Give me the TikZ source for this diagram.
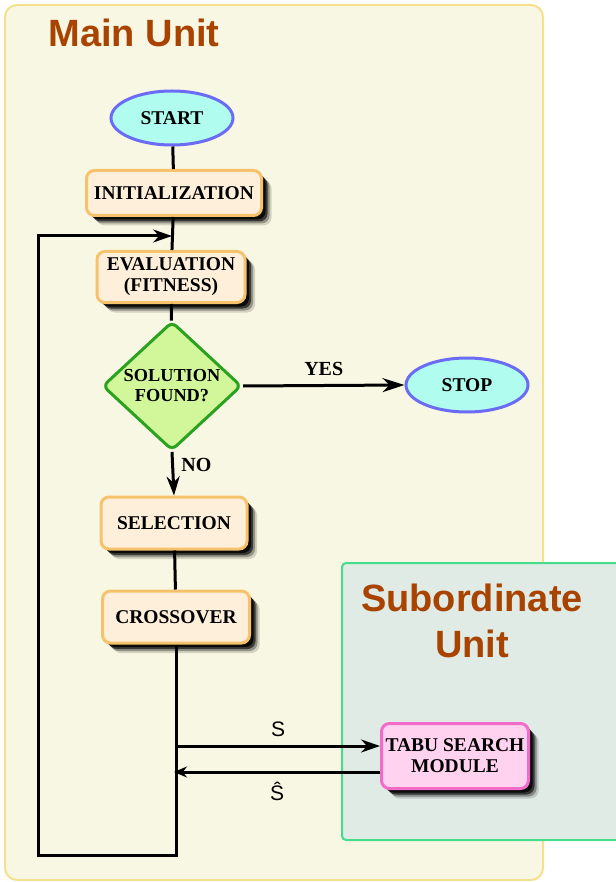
\documentclass[tikz,border=0pt]{standalone}
\usepackage{fontspec}
\setmainfont{Liberation Serif}
\setsansfont{Liberation Sans}
\usepackage{xcolor}
\usetikzlibrary{arrows.meta,calc,positioning,shapes.geometric,shadows}

\definecolor{mainfill}{HTML}{F8F7E3}
\definecolor{mainedge}{HTML}{F5E08E}
\definecolor{subfill}{HTML}{E0EBE6}
\definecolor{subedge}{HTML}{45DC8C}
\definecolor{termfill}{HTML}{B0FCEE}
\definecolor{termedge}{HTML}{6B6BF5}
\definecolor{boxfill}{HTML}{FEEFDA}
\definecolor{boxedge}{HTML}{F6C36C}
\definecolor{askfill}{HTML}{D2F79A}
\definecolor{askedge}{HTML}{2BA120}
\definecolor{tabufill}{HTML}{FFD2F0}
\definecolor{tabuedge}{HTML}{F26BC8}
\definecolor{unittitle}{HTML}{A84400}

\begin{document}
\begin{tikzpicture}[x=1pt,y=-1pt,
    nodefont/.style={font=\fontsize{19.5}{21}\selectfont\bfseries},
    smallfont/.style={font=\fontsize{18.3}{20}\selectfont\bfseries},
    labelfont/.style={font=\fontsize{20}{22}\selectfont\bfseries},
    unitfont/.style={font=\sffamily\bfseries\fontsize{38}{46}\selectfont,text=unittitle},
    terminal/.style={ellipse,nodefont,draw=termedge,fill=termfill,line width=3pt,
      minimum width=122pt,minimum height=54pt,inner sep=0pt},
    stepbox/.style={rectangle,rounded corners=8pt,nodefont,draw=boxedge,fill=boxfill,
      line width=3pt,align=center,inner sep=2pt,
      drop shadow={shadow xshift=10pt,shadow yshift=-10pt,opacity=0.15,fill=black},
      drop shadow={shadow xshift=8pt,shadow yshift=-8pt,opacity=0.3,fill=black},
      drop shadow={shadow xshift=6pt,shadow yshift=-6pt,opacity=0.6,fill=black},
      drop shadow={shadow xshift=4pt,shadow yshift=-4pt,opacity=0.8,fill=black}},
    askbox/.style={diamond,rounded corners=6pt,smallfont,
      draw=askedge,fill=askfill,line width=3pt,align=center,inner sep=0pt,
      minimum width=139pt,minimum height=107pt},
    conn/.style={line width=3pt},
    arr/.style={conn,-{Stealth[length=19pt,width=13pt]}}]
\useasboundingbox (0,0) rectangle (615,882);

% Drawing unit frames
\draw[fill=mainfill,draw=mainedge,line width=2pt,rounded corners=12pt] (5,5) rectangle (543,880);
\node[unitfont] (maintitle) at (134,33) {Main Unit};
\draw[fill=subfill,draw=subedge,line width=2pt,rounded corners=4pt] (342,563) rectangle (630,840);
\node[unitfont,align=center] (subtitle) at (472,621) {Subordinate\\Unit};

% Drawing flow nodes
\node[terminal] (start) at (172,118) {START};
\node[stepbox,minimum width=175pt,minimum height=45pt] (init) at (174,193) {INITIALIZATION};
\node[stepbox,minimum width=148pt,minimum height=51pt] (eval) at (171,277) {EVALUATION\\(FITNESS)};
\node[askbox] (found) at (172,386) {SOLUTION\\FOUND?};
\node[terminal] (stop) at (467,385) {STOP};
\node[stepbox,minimum width=146pt,minimum height=52pt] (sel) at (174,523) {SELECTION};
\node[stepbox,minimum width=147pt,minimum height=52pt] (cross) at (176,617) {CROSSOVER};
\node[stepbox,draw=tabuedge,fill=tabufill,minimum width=147pt,minimum height=65pt] (tabu) at (455,756) {TABU SEARCH\\MODULE};

% Drawing connectors
\draw[conn] (start) -- (init);
\draw[conn] (init) -- (eval);
\draw[conn] (eval) -- (found);
\draw[arr,-{Stealth[length=22pt,width=14pt]}] (found.east) -- (stop.west) node[midway,above=5pt,labelfont] (yes) {YES};
\draw[arr] (found.south) -- (sel.north) node[pos=0.3,right=4pt,labelfont] (no) {NO};
\draw[conn] (sel) -- (cross);

% Drawing loop back to evaluation
\coordinate (loopleft) at (38,855);
\coordinate (loopend) at (172,236);
\draw[arr,line join=miter] (cross.south) |- (loopleft) |- (loopend);

% Drawing exchange with tabu search
\coordinate (sout) at (176,746);
\coordinate (sin) at (174,772);
\draw[arr] (sout) -- (sout -| tabu.west) node[midway,above=4pt,font=\sffamily\fontsize{21}{24}\selectfont] (slabel) {S};
\draw[arr,-{Stealth[length=13pt,width=11pt]}] (sin -| tabu.west) -- (sin) node[midway,below=5pt,font=\sffamily\fontsize{21}{24}\selectfont] (shatlabel) {\^{S}};
\end{tikzpicture}
\end{document}
